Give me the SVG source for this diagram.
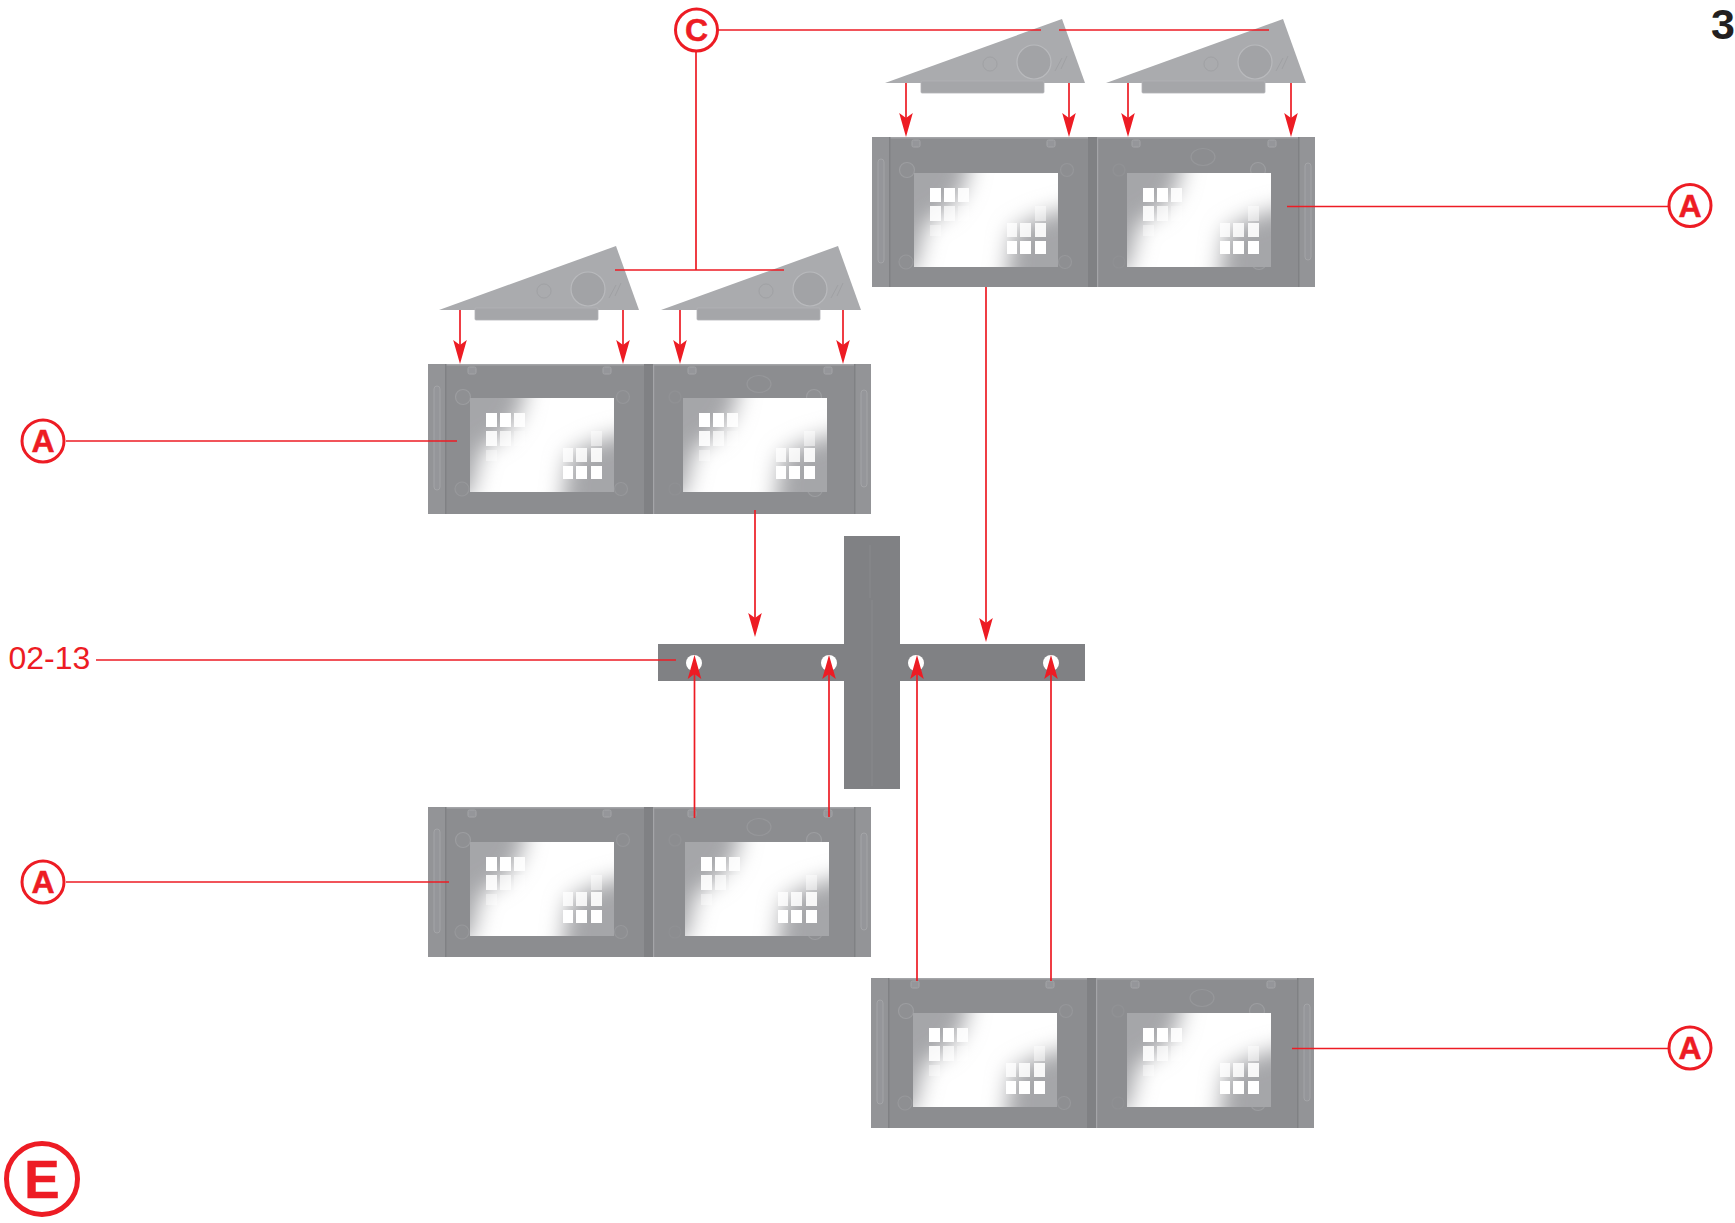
<svg xmlns="http://www.w3.org/2000/svg" width="1735" height="1223" viewBox="0 0 1735 1223">
<style>
.ln{stroke:#ed1c24;stroke-width:1.7;fill:none}
.arr{marker-end:url(#ah)}
.ring{fill:#fff;stroke:#ed1c24;stroke-width:3}
.lt{font-family:"Liberation Sans",Arial,sans-serif;font-weight:700;fill:#ed1c24;stroke:#ed1c24;stroke-width:.5;text-anchor:middle}
.pb{fill:#8c8d90}
.sm{fill:#8f9093;stroke:#9c9da0;stroke-width:1.2}
.sl{fill:#95969a;stroke:#a3a4a7;stroke-width:1}
.seam{fill:#808184}
.hl{fill:#a4a5a8}
.edge{fill:#939497}
.pn{fill:#fff}
.cb{fill:none;stroke:#96979a;stroke-width:1.200}
.tri{fill:#aaabae}
.bar{fill:#a5a6a9;stroke:#b2b3b6;stroke-width:.8}
.bt{fill:#a2a3a6;stroke:#b9babd;stroke-width:1.200}
.em{fill:none;stroke:#a0a1a4;stroke-width:1}
.cr{fill:#808184}
.wgray{fill:#a5a6a9}
</style>
<defs>
<marker id="ah" markerUnits="userSpaceOnUse" markerWidth="26" markerHeight="16" viewBox="0 -8 26 16" refX="14" refY="0" orient="auto">
<path d="M24 0L0-6.800L5 0L0 6.800Z" fill="#ed1c24"/>
</marker>
<clipPath id="wc"><rect width="144" height="94"/></clipPath>
<filter id="soft" x="-5%" y="-5%" width="110%" height="110%"><feGaussianBlur stdDeviation=".6"/></filter>
<filter id="pane" x="-10%" y="-10%" width="120%" height="120%"><feGaussianBlur stdDeviation=".5"/></filter>
<filter id="fade" filterUnits="userSpaceOnUse" x="-60" y="-60" width="264" height="214"><feGaussianBlur stdDeviation="11"/></filter>
<g id="win">
<rect width="144" height="94" fill="#fff"/>
<g clip-path="url(#wc)">
<g filter="url(#fade)">
<path class="wgray" d="M-30-30H60L50 16 34 38 12 50 0 100H-30Z"/>
<path class="wgray" d="M175 30L124 44 98 58 90 125H175Z"/>
</g>
</g>
<g class="pn" filter="url(#pane)">
<rect x="16" y="15" width="11" height="14"/><rect x="30" y="15" width="11" height="14"/><rect x="44" y="15" width="11" height="14" opacity=".9"/>
<rect x="16" y="33" width="11" height="15" opacity=".9"/><rect x="30" y="33" width="11" height="15" opacity=".7"/><rect x="44" y="33" width="11" height="15" opacity=".3"/>
<rect x="16" y="52" width="11" height="11" opacity=".4"/>
<rect x="121" y="33" width="11" height="15" opacity=".5"/>
<rect x="93" y="50" width="10" height="14" opacity=".8"/><rect x="106" y="50" width="11" height="14" opacity=".85"/><rect x="121" y="50" width="11" height="14" opacity=".9"/>
<rect x="93" y="68" width="10" height="13"/><rect x="106" y="68" width="11" height="13"/><rect x="121" y="68" width="11" height="13"/>
</g>
</g>
<g id="panel" filter="url(#soft)">
<rect class="pb" width="443" height="150"/>
<rect class="hl" width="443" height="1.500"/>
<rect class="edge" width="18" height="150"/>
<rect class="edge" x="427" width="16" height="150"/>
<rect class="seam" x="17" width="1.500" height="150"/>
<rect class="seam" x="216" width="9" height="150"/>
<rect class="hl" x="225" width="1.200" height="150"/>
<rect class="seam" x="426" width="1.500" height="150"/>
<rect class="sl" x="6" y="22" width="6" height="104" rx="3"/>
<rect class="sl" x="433" y="26" width="6" height="97" rx="3"/>
<rect class="sl" x="40" y="3" width="8" height="7" rx="1.500"/>
<rect class="sl" x="175" y="3" width="8" height="7" rx="1.500"/>
<rect class="sl" x="260" y="3" width="8" height="7" rx="1.500"/>
<rect class="sl" x="396" y="3" width="8" height="7" rx="1.500"/>
<circle class="sm" cx="35" cy="33" r="7.500"/>
<circle class="sm" cx="195" cy="33" r="6.500" opacity=".6"/>
<circle class="sm" cx="34" cy="125" r="7" opacity=".7"/>
<circle class="sm" cx="193" cy="125" r="6.500" opacity=".7"/>
<circle class="sm" cx="247" cy="33" r="6" opacity=".3"/>
<circle class="sm" cx="247" cy="125" r="6" opacity=".2"/>
<circle class="sm" cx="386" cy="33" r="7.500"/>
<circle class="sm" cx="387" cy="125" r="7.500"/>
<ellipse class="cb" cx="331" cy="20" rx="12" ry="8.500"/>
</g>
<g id="tri" filter="url(#soft)">
<path class="tri" d="M0 64L177 0L200 64Z"/>
<rect class="bar" x="36" y="62" width="123" height="12" rx="1"/>
<circle class="bt" cx="149" cy="43" r="17"/>
<circle class="em" cx="105" cy="45" r="7"/>
<path class="em" d="M176 50l6-13M170 52l7-13"/>
</g>
</defs>
<rect width="1735" height="1223" fill="#fff"/>

<g id="cap-c1"><use href="#tri" x="885" y="19"/></g>
<g id="cap-c2"><use href="#tri" x="1106" y="19"/></g>
<g id="cap-c3"><use href="#tri" x="439" y="246"/></g>
<g id="cap-c4"><use href="#tri" x="661" y="246"/></g>
<g id="panel-a1"><use href="#panel" x="872" y="137"/><use href="#win" x="914" y="173"/><use href="#win" x="1127" y="173"/></g>
<g id="panel-a2"><use href="#panel" x="428" y="364"/><use href="#win" x="470" y="398"/><use href="#win" x="683" y="398"/></g>
<g id="panel-a3"><use href="#panel" x="428" y="807"/><use href="#win" x="470" y="842"/><use href="#win" x="685" y="842"/></g>
<g id="panel-a4"><use href="#panel" x="871" y="978"/><use href="#win" x="913" y="1013"/><use href="#win" x="1127" y="1013"/></g>
<g id="part-02-13" filter="url(#soft)">
<path class="cr" d="M844 536H900V644H1085V681H900V789H844V681H658V644H844Z"/>
<path d="M872 600V786M870 545V598" fill="none" stroke="#88898c" stroke-width="1"/>
<circle cx="694" cy="663" r="8" fill="#fff"/><circle cx="829" cy="663" r="8" fill="#fff"/><circle cx="916" cy="663" r="8" fill="#fff"/><circle cx="1051" cy="663" r="8" fill="#fff"/>
</g>

<g id="connectors">
<path class="ln" d="M717 30H1041M1059 30H1269M696 51V270M615 270H784"/>
<path class="ln" d="M1287 206.500H1668M66 441H457M66 882H449M1292 1048.500H1668M96 660H676"/>
<path class="ln arr" d="M906 83V127"/><path class="ln arr" d="M1069 83V127"/><path class="ln arr" d="M1128 83V127"/><path class="ln arr" d="M1291 83V127"/>
<path class="ln arr" d="M460 310V354"/><path class="ln arr" d="M623 310V354"/><path class="ln arr" d="M680 310V354"/><path class="ln arr" d="M843 310V354"/>
<path class="ln arr" d="M755 510V627"/><path class="ln arr" d="M986 287V632"/>
<path class="ln arr" d="M694.500 818V665"/><path class="ln arr" d="M829 817V665"/><path class="ln arr" d="M917 981V665"/><path class="ln arr" d="M1051 981V665"/>
</g>

<g id="label-c"><circle class="ring" cx="696.500" cy="30" r="21"/><text class="lt" x="696.500" y="41" font-size="32">C</text></g>
<g id="label-a1"><circle class="ring" cx="1690" cy="205.500" r="21"/><text class="lt" x="1690" y="216.500" font-size="32">A</text></g>
<g id="label-a2"><circle class="ring" cx="43" cy="441" r="21"/><text class="lt" x="43" y="452" font-size="32">A</text></g>
<g id="label-a3"><circle class="ring" cx="43" cy="882" r="21"/><text class="lt" x="43" y="893" font-size="32">A</text></g>
<g id="label-a4"><circle class="ring" cx="1690" cy="1048" r="21"/><text class="lt" x="1690" y="1059" font-size="32">A</text></g>
<g id="label-e"><circle cx="42" cy="1179" r="35.500" fill="#fff" stroke="#ed1c24" stroke-width="5"/><text class="lt" x="42" y="1198" font-size="53">E</text></g>
<g id="label-02-13"><text x="8.500" y="669" font-family="'Liberation Sans',Arial,sans-serif" font-size="32" fill="#ed1c24">02-13</text></g>
<g id="page-number"><text x="1711" y="39" font-family="'Liberation Sans',Arial,sans-serif" font-weight="700" font-size="43" fill="#231f20">3</text></g>
</svg>
